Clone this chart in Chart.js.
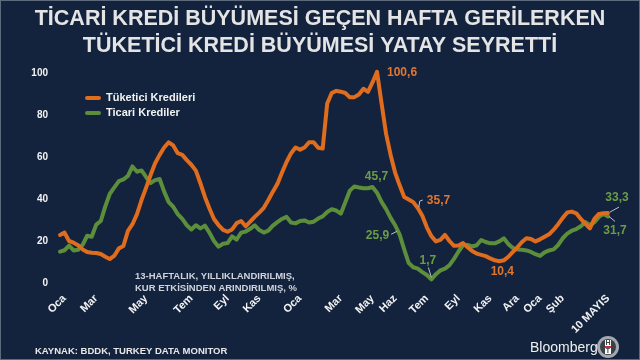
<!DOCTYPE html>
<html>
<head>
<meta charset="utf-8">
<script src="https://cdn.jsdelivr.net/npm/chart.js@4.4.0/dist/chart.umd.min.js"></script>
<style>
    html, body { margin: 0; padding: 0; background: #13233d; }
    canvas { display: block; }
</style>
</head>
<body>
<canvas id="krediGrafik" width="640" height="360"></canvas>
<script>
// Haftalik veri, Ocak 2021 - 10 Mayis 2023
var tuketici = [
    22.9, 24, 20, 19.2, 18, 16, 14.8, 14.4, 14.3, 13.8,
    12.5, 11.4, 13, 16.5, 17.6, 24.8, 28, 32.8, 39.5, 45.3,
    51.4, 57, 61, 64.5, 67, 65.5, 61.8, 61, 58.5, 56.3,
    53.5, 47.5, 41, 35.5, 30.5, 27.6, 25.3, 24.4, 25.5, 28.5,
    29.5, 27, 29.2, 31.5, 33.5, 35.8, 39.5, 43.5, 47.2, 52.5,
    57.5, 61.7, 64.5, 63.5, 64.5, 67, 67, 64.4, 64, 85.5,
    90.5, 91.5, 91.1, 90.5, 88.4, 88.5, 89.8, 92.5, 91, 95.5,
    100.6, 85.6, 71, 61, 52.5, 46.5, 41, 39.8, 38.5, 35.7,
    32, 26.5, 22.3, 19.8, 20.5, 22.9, 20, 17.7, 17.8, 19,
    17, 15.2, 14, 13.4, 12.8, 11.7, 10.8, 10.4, 10.8, 12.5,
    14.8, 17, 19.5, 21.3, 21, 19.8, 20.8, 22, 23.2, 25.4,
    28, 31, 33.6, 34, 33.2, 30.5, 28.2, 26, 30.5, 32.9,
    33.2, 33.3
];
var ticari = [
    14.9, 15.6, 17.8, 15.5, 15.8, 18.2, 22.5, 22, 27.8, 29.5,
    36.5, 42.5, 45.5, 48.5, 49.3, 51, 55.5, 53, 53.6, 50.5,
    47.6, 49, 49.5, 43.5, 38.5, 36.3, 32.8, 30.5, 27.5, 25.5,
    27.5, 26, 27.3, 24, 20, 17.3, 18.7, 19, 22.2, 20.7,
    24, 24.5, 25.8, 27.5, 25.2, 24, 24.9, 27.3, 29, 30.5,
    31.5, 28.8, 28.4, 29.5, 29.8, 28.8, 29.2, 30.7, 31.7, 33.8,
    35.1, 34.5, 33, 38.5, 44, 46, 45.5, 45.1, 45.1, 45.7,
    43, 38.6, 35.2, 31, 27.5, 23, 16, 9.5, 7.5, 6.8,
    5.2, 3.8, 1.7, 4.2, 6, 6.8, 8.5, 11.5, 15, 18.1,
    18.1, 17.4, 18, 20.5, 19.5, 18.9, 18.9, 19.8, 21.3, 18.5,
    16.7, 16, 15.8, 15.5, 14.8, 13.7, 12.9, 14.6, 15.5, 16,
    18.1, 21.3, 23.5, 24.9, 25.7, 27, 29, 27.5, 29, 31.5,
    32.9, 31.7
];

// X ekseni etiketleri ve hafta sirasi
var ayEtiketleri = ['Oca', 'Mar', 'May', 'Tem', 'Eyl', 'Kas', 'Oca', 'Mar', 'May', 'Haz',
    'Tem', 'Eyl', 'Kas', 'Ara', 'Oca', 'Şub', '10 MAYIS'];
var ayIndeks = [1, 8, 19, 29, 37, 44, 53, 62, 69, 74, 81, 88, 95, 101, 106, 111, 121];

var seriAdlari = ['Tüketici Kredileri', 'Ticari Krediler'];
var baslik = ['TİCARİ KREDİ BÜYÜMESİ GEÇEN HAFTA GERİLERKEN', 'TÜKETİCİ KREDİ BÜYÜMESİ YATAY SEYRETTİ'];

var turuncu = '#e06c1e';
var yesil = '#5c8e3b';

var etiketler = tuketici.map(function () { return ''; });
ayIndeks.forEach(function (idx, k) { etiketler[idx] = ayEtiketleri[k]; });

// Degerlerin uzerindeki notlar (veri noktasina gore kaydirma)
var notlar = [
    { seri: 0, i: 70, metin: '100,6', dx: 10, dy: 1, hiza: 'left', renk: '#e2772c' },
    { seri: 1, i: 69, metin: '45,7', dx: 4, dy: -10, hiza: 'center', renk: '#6c9c47' },
    { seri: 1, i: 74, metin: '25,9', dx: -6, dy: 10, hiza: 'right', renk: '#6c9c47', cizgi: [[-4, 9], [2, 6]] },
    { seri: 0, i: 79, metin: '35,7', dx: 9, dy: -7, hiza: 'left', renk: '#e2772c', cizgi: [[1, -1], [2, -7], [5, -8]] },
    { seri: 1, i: 82, metin: '1,7', dx: -3.5, dy: -19, hiza: 'center', renk: '#6c9c47', cizgi: [[-3, -12], [0, -2]] },
    { seri: 0, i: 97, metin: '10,4', dx: 3, dy: 11, hiza: 'center', renk: '#e2772c' },
    { seri: 0, i: 121, metin: '33,3', dx: 9, dy: -15, hiza: 'center', renk: '#6c9c47', cizgi: [[2, -1], [11, -6]] },
    { seri: 1, i: 121, metin: '31,7', dx: 7, dy: 14, hiza: 'center', renk: '#6c9c47', cizgi: [[1, 0], [7, 5]] }
];

var arkaPlan = {
    id: 'arkaPlan',
    beforeDraw: function (chart) {
        var c = chart.ctx;
        c.save();
        c.fillStyle = '#13233d';
        c.fillRect(0, 0, chart.width, chart.height);
        c.restore();
    },
    afterDraw: function (chart) {
        var c = chart.ctx;
        c.save();
        // baslik
        c.fillStyle = '#e4e4e4';
        c.textAlign = 'center';
        c.textBaseline = 'middle';
        c.font = 'bold 21.5px "Liberation Sans", Arial, sans-serif';
        c.fillText(baslik[0], 320, 19);
        c.fillText(baslik[1], 320, 46);

        // lejant
        c.lineWidth = 4;
        c.lineCap = 'round';
        [turuncu, yesil].forEach(function (renk, k) {
            var y = 98 + k * 15;
            c.strokeStyle = renk;
            c.beginPath();
            c.moveTo(87, y);
            c.lineTo(99, y);
            c.stroke();
            c.fillStyle = '#f2f2f2';
            c.textAlign = 'left';
            c.font = 'bold 11px "Liberation Sans", Arial, sans-serif';
            c.fillText(seriAdlari[k], 106, y);
        });

        // aciklama
        c.fillStyle = '#cfd4dc';
        c.font = 'bold 9.5px "Liberation Sans", Arial, sans-serif';
        c.fillText('13-HAFTALIK, YILLIKLANDIRILMIŞ,', 135, 276);
        c.fillText('KUR ETKİSİNDEN ARINDIRILMIŞ, %', 135, 288);

        // kaynak
        c.fillStyle = '#e8e8e8';
        c.font = 'bold 9.5px "Liberation Sans", Arial, sans-serif';
        c.fillText('KAYNAK: BDDK, TURKEY DATA MONITOR', 35, 351);

        // Bloomberg HT
        c.font = '14px "Liberation Sans", Arial, sans-serif';
        c.fillStyle = '#f0f0f0';
        c.fillText('Bloomberg', 530, 348);
        c.beginPath();
        c.arc(608, 347, 11, 0, Math.PI * 2);
        c.fillStyle = '#a4a9b0';
        c.fill();
        c.beginPath();
        c.arc(608, 347, 8, 0, Math.PI * 2);
        c.fillStyle = '#3a3f48';
        c.fill();
        c.fillStyle = '#ffffff';
        c.fillRect(605, 340, 6, 14);
        c.fillStyle = '#c8302c';
        c.fillRect(605, 346, 6, 2);
        c.fillStyle = '#3a3f48';
        c.font = 'bold 7px "Liberation Sans", Arial, sans-serif';
        c.textAlign = 'center';
        c.fillText('H', 608, 343);
        c.fillText('T', 608, 351);

        // cerceve
        c.strokeStyle = '#5d6a7c';
        c.lineWidth = 1;
        c.strokeRect(0.5, 0.5, chart.width - 1, chart.height - 1);
        c.restore();
    }
};

var degerNotlari = {
    id: 'degerNotlari',
    afterDatasetsDraw: function (chart) {
        var c = chart.ctx;
        c.save();
        c.font = 'bold 12px "Liberation Sans", Arial, sans-serif';
        c.textBaseline = 'middle';
        notlar.forEach(function (n) {
            var nokta = chart.getDatasetMeta(n.seri).data[n.i];
            var px = nokta.x, py = nokta.y;
            if (n.cizgi) {
                c.strokeStyle = '#b9c0ca';
                c.lineWidth = 1;
                c.beginPath();
                n.cizgi.forEach(function (p, k) {
                    if (k === 0) c.moveTo(px + p[0], py + p[1]);
                    else c.lineTo(px + p[0], py + p[1]);
                });
                c.stroke();
            }
            c.fillStyle = n.renk;
            c.textAlign = n.hiza;
            c.fillText(n.metin, px + n.dx, py + n.dy);
        });
        c.restore();
    }
};

var eksenYazi = { family: '"Liberation Sans", Arial, sans-serif', size: 10, weight: 'bold' };

var ctx = document.getElementById('krediGrafik').getContext('2d');
var grafik = new Chart(ctx, {
    type: 'line',
    data: {
        labels: etiketler,
        datasets: [
            { label: seriAdlari[0], data: tuketici, borderColor: turuncu, borderWidth: 4 },
            { label: seriAdlari[1], data: ticari, borderColor: yesil, borderWidth: 4 }
        ]
    },
    options: {
        responsive: false,
        animation: false,
        layout: { padding: { top: 73, right: 32, left: 0, bottom: 0 } },
        elements: {
            point: { radius: 0 },
            line: { tension: 0, borderJoinStyle: 'round', borderCapStyle: 'round', fill: false }
        },
        datasets: { line: { clip: false } },
        plugins: {
            legend: { display: false },
            title: { display: false },
            tooltip: { enabled: false }
        },
        scales: {
            x: {
                type: 'category',
                offset: false,
                grid: { display: false, drawTicks: false },
                border: { display: false },
                ticks: {
                    autoSkip: false,
                    maxRotation: 45,
                    minRotation: 45,
                    padding: 9,
                    color: '#f2f2f2',
                    font: { family: '"Liberation Sans", Arial, sans-serif', size: 11, weight: 'bold' }
                },
                afterFit: function (s) { s.height = 77; }
            },
            y: {
                min: 0,
                max: 100,
                grid: { display: false, drawTicks: false },
                border: { display: false },
                ticks: {
                    stepSize: 20,
                    padding: 12,
                    color: '#f2f2f2',
                    font: eksenYazi
                },
                afterFit: function (s) { s.width = 60; }
            }
        }
    },
    plugins: [arkaPlan, degerNotlari]
});
</script>
</body>
</html>
